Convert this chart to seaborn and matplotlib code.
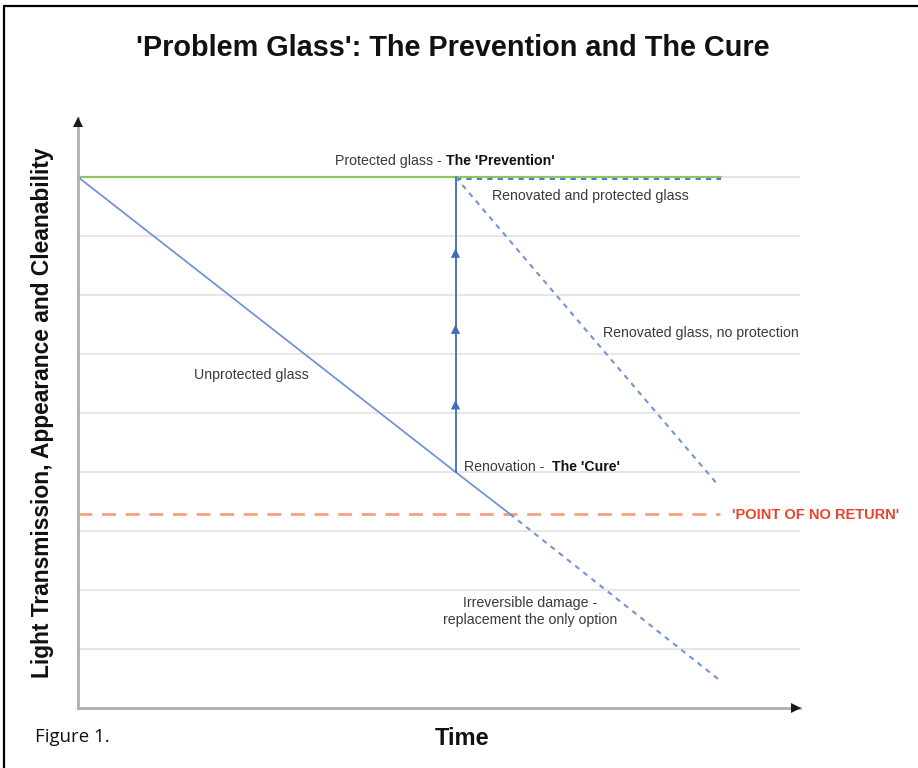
import matplotlib
matplotlib.use("Agg")
import matplotlib.pyplot as plt
import seaborn as sns
import pandas as pd
from matplotlib.lines import Line2D

# level of glass quality (0..10) against time (0..12.24)
unprot_x = [0.0, 6.4, 7.32]
unprot_y = [9.0, 4.0, 3.29]
irrev_x = [7.32, 10.88]
irrev_y = [3.29, 0.47]
protected_x = [0.0, 10.9]
protected_y = [9.0, 9.0]
reno_prot_x = [6.4, 10.9]
reno_prot_y = [8.97, 8.97]
reno_noprot_x = [6.4, 10.85]
reno_noprot_y = [9.0, 3.78]
cure_x = [6.4, 6.4]
cure_y = [4.0, 9.0]
cure_arrow_y = [5.14, 6.42, 7.71]
no_return_x = [0.0, 10.88]
no_return_y = [3.29, 3.29]
grid_levels = [1, 2, 3, 4, 5, 6, 7, 8, 9]

sns.set_style("white")
plt.rcParams["font.family"] = ["Liberation Sans", "DejaVu Sans"]

fig = plt.figure(figsize=(9.18, 7.68), dpi=100)
ax = fig.add_axes([78 / 918, 60 / 768, 722 / 918, 590 / 768])

blue = "#7394d4"
line_kw = dict(ax=ax, estimator=None, sort=False)

sns.lineplot(x=protected_x, y=protected_y, color="#8cc862", lw=1.6, **line_kw)
sns.lineplot(x=no_return_x, y=no_return_y, color="#f4a083", lw=2.0,
             linestyle=(0, (5, 3.5)), **line_kw)
sns.lineplot(x=unprot_x, y=unprot_y, color=blue, lw=1.3, **line_kw)
sns.lineplot(x=irrev_x, y=irrev_y, color=blue, lw=1.5, linestyle=(0, (2.5, 2.5)), **line_kw)
sns.lineplot(x=reno_prot_x, y=reno_prot_y, color="#4f7cc4", lw=1.5, linestyle=(0, (2.5, 2.5)), **line_kw)
sns.lineplot(x=reno_noprot_x, y=reno_noprot_y, color=blue, lw=1.5, linestyle=(0, (2.5, 2.5)), **line_kw)
sns.lineplot(x=cure_x, y=cure_y, color="#4a76be", lw=1.4, **line_kw)
sns.scatterplot(x=[cure_x[0]] * len(cure_arrow_y), y=cure_arrow_y, ax=ax, marker="^",
                color="#3f6db8", s=45, edgecolor="none", zorder=5)

ax.set_xlim(0, 12.24)
ax.set_ylim(0, 10)
ax.set_yticks(grid_levels)
ax.set_xticks([])
ax.tick_params(left=False, labelleft=False)
ax.grid(axis="y", color="#e4e4e4", lw=1.3)
ax.set_axisbelow(True)
ax.set_xlabel("")
ax.set_ylabel("")
for side in ["top", "right"]:
    ax.spines[side].set_visible(False)
for side in ["left", "bottom"]:
    ax.spines[side].set_color("#b0b0b0")
    ax.spines[side].set_linewidth(2)
ax.plot(0.995, 0, ">", color="#1a1a1a", ms=7, mew=0, transform=ax.transAxes, clip_on=False, zorder=6)
ax.plot(0, 0.993, "^", color="#1a1a1a", ms=7, mew=0, transform=ax.transAxes, clip_on=False, zorder=6)

fs = 10.2
small = dict(fontsize=fs, color="#3a3a3a", va="center")
bold = dict(fontsize=fs, color="#111111", va="center", fontweight="bold")
ax.text(6.17, 9.27, "Protected glass -", ha="right", **small)
ax.text(6.24, 9.27, "The 'Prevention'", ha="left", **bold)
ax.text(7.02, 8.68, "Renovated and protected glass", ha="left", **small)
ax.text(8.9, 6.36, "Renovated glass, no protection", ha="left", **small)
ax.text(1.97, 5.64, "Unprotected glass", ha="left", **small)
ax.text(6.55, 4.08, "Renovation -", ha="left", **small)
ax.text(8.03, 4.08, "The 'Cure'", ha="left", **bold)
ax.text(7.66, 1.63, "Irreversible damage -\nreplacement the only option", ha="center",
        linespacing=1.25, **small)
ax.text(11.08, 3.27, "'POINT OF NO RETURN'", ha="left", va="center", fontsize=10.5,
        color="#e8432e", fontweight="bold", clip_on=False)

fig.text(0.4935, 0.9375, "'Problem Glass': The Prevention and The Cure", ha="center",
         va="center", fontsize=20.8, fontweight="bold", color="#111111")
fig.text(0.0458, 0.4622, "Light Transmission, Appearance and Cleanability", rotation=90,
         ha="center", va="center", fontsize=16.4, fontweight="bold", color="#111111")
fig.text(0.503, 0.039, "Time", ha="center", va="center", fontsize=17,
         fontweight="bold", color="#111111")
fig.text(0.038, 0.040, "Figure 1.", ha="left", va="center", fontsize=13.4,
         color="#111111", family=["Open Sans", "DejaVu Sans"])

# page frame: top and left rule
fig.add_artist(Line2D([0.0044, 0.0044], [0, 0.9928], color="black", lw=1.6))
fig.add_artist(Line2D([0.0044, 1], [0.9928, 0.9928], color="black", lw=1.6))

fig.savefig("out.png", dpi=100)
